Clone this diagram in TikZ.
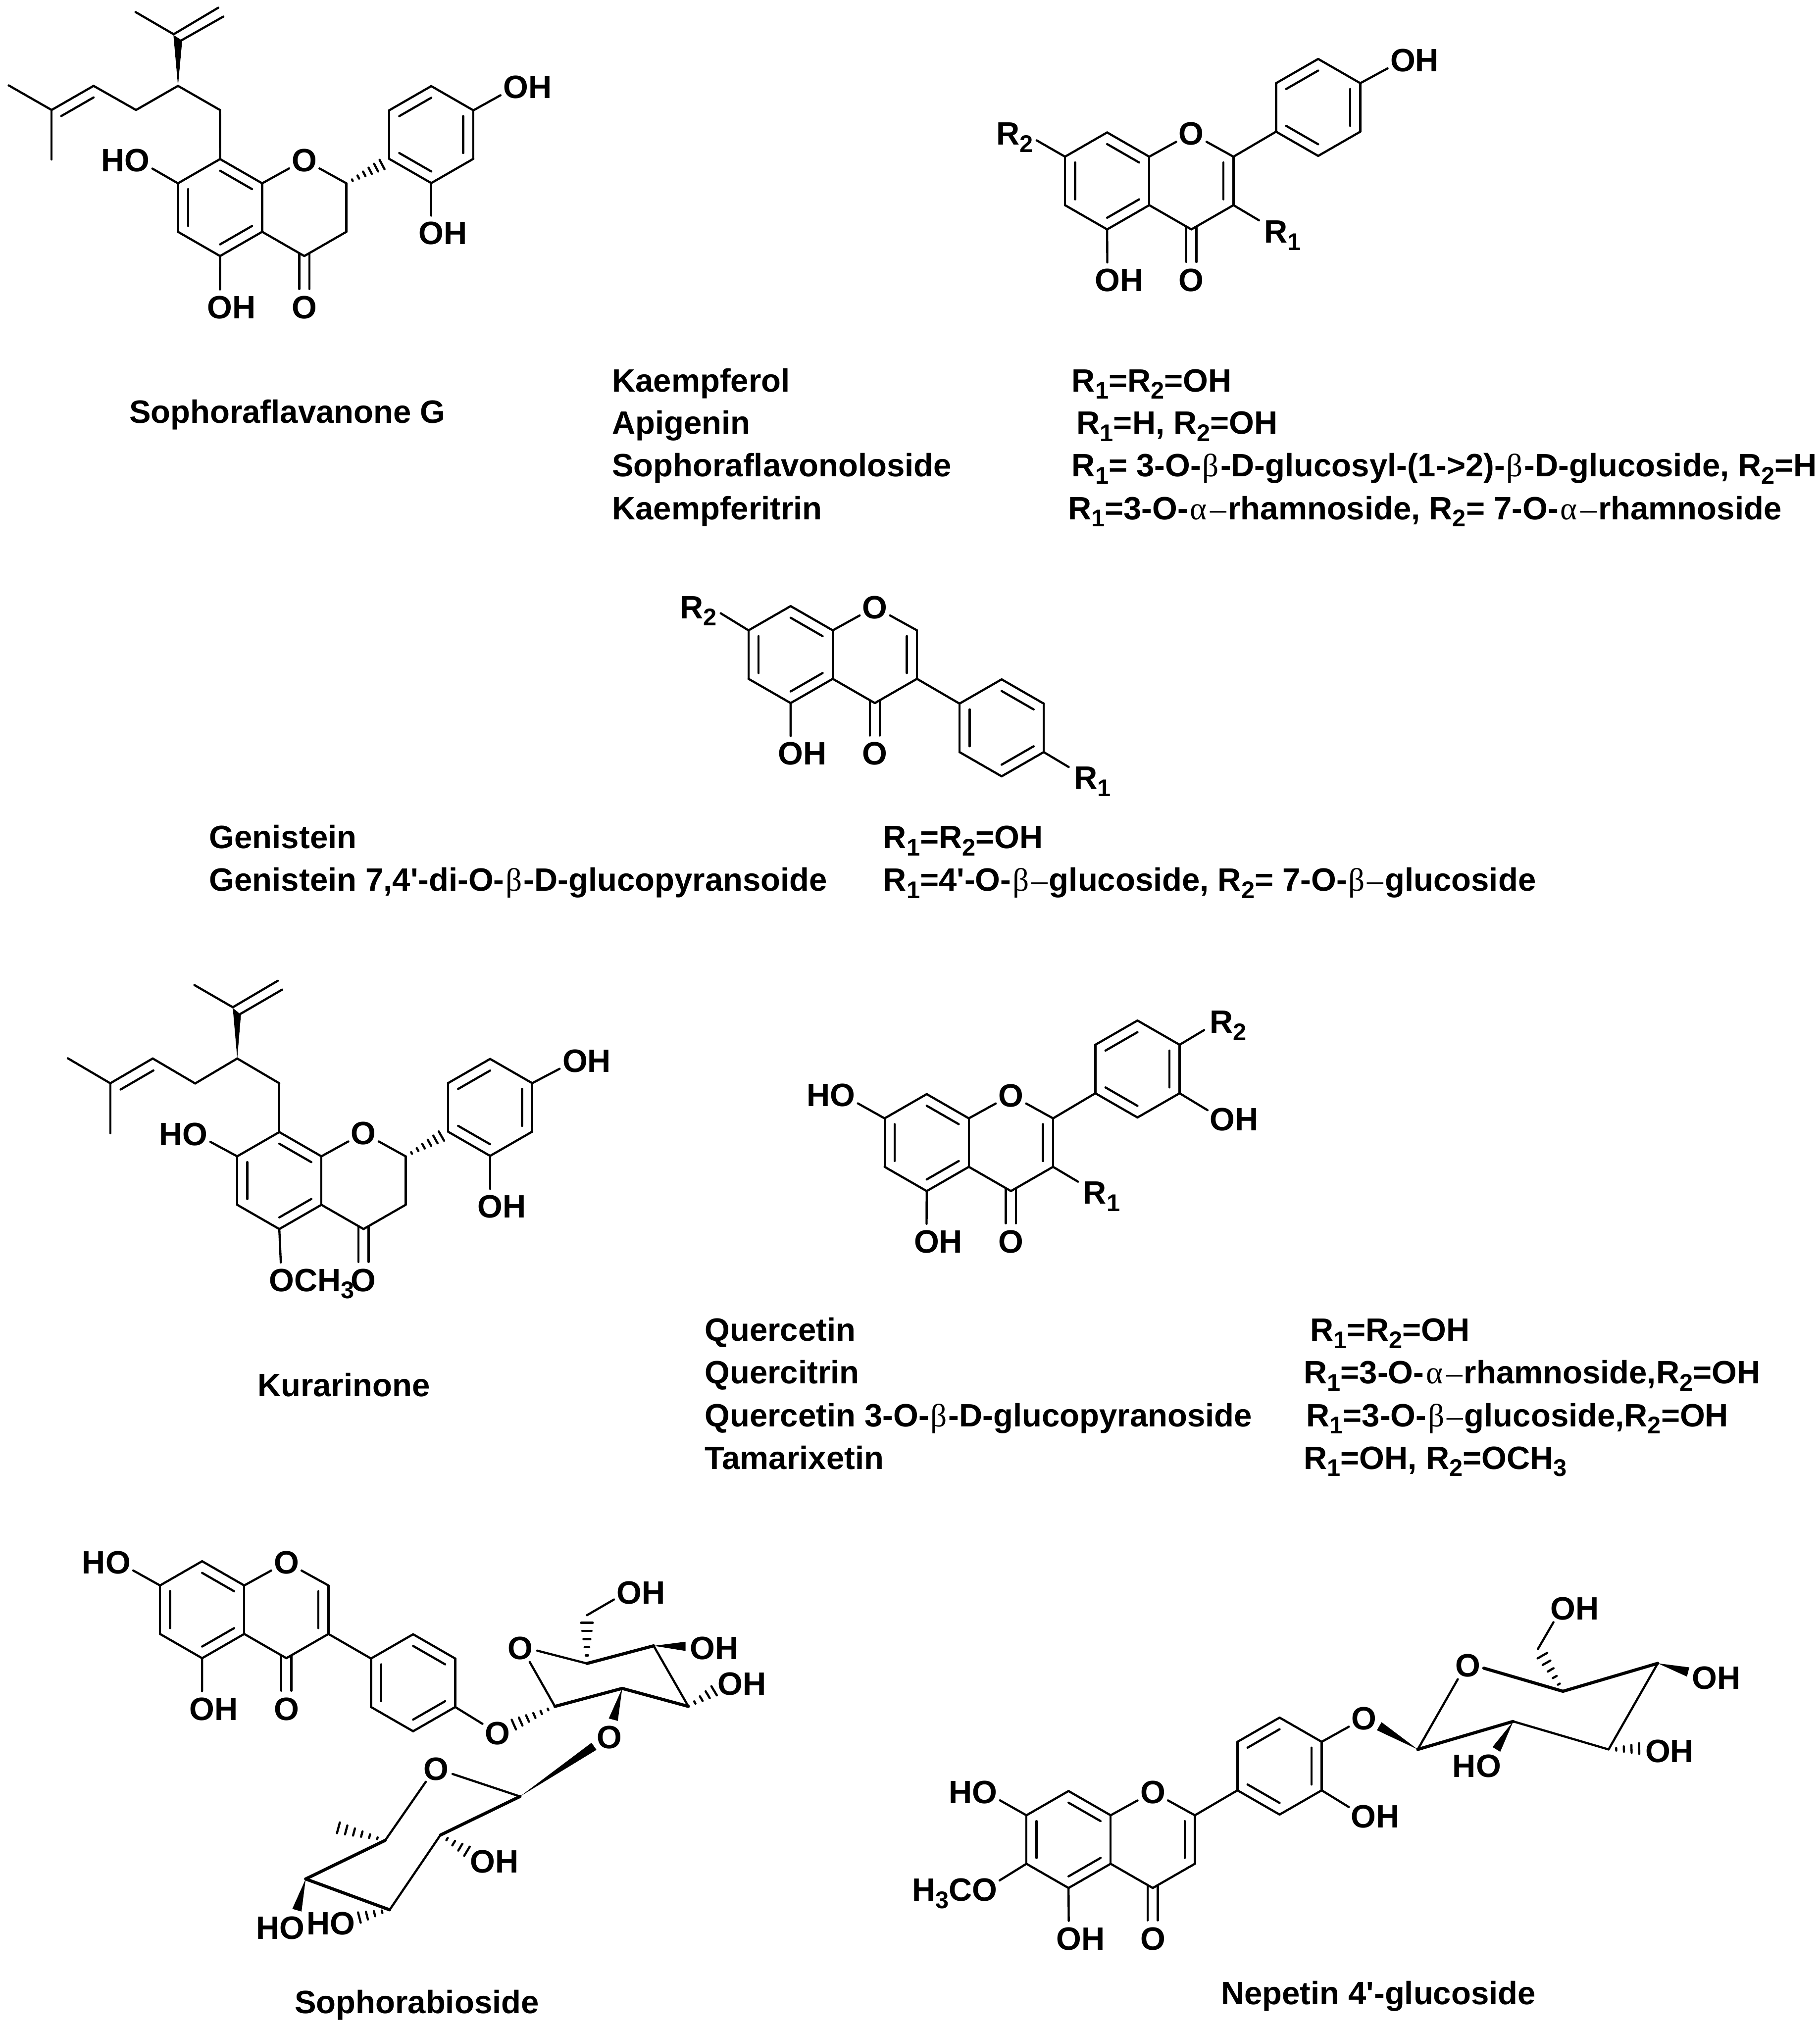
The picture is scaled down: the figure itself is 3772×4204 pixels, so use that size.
\documentclass[tikz,border=0pt]{standalone}
\usepackage{fontspec}
\usetikzlibrary{calc}
\newfontfamily\lsf{Liberation Sans}
\newfontfamily\grk{Liberation Serif}
\newcommand\subn[1]{\raisebox{-15pt}{\fontsize{50}{50}\selectfont #1}}
\newcommand\gb{{\grk\mdseries\kern3pt β\kern3pt}}
\newcommand\ga{{\grk\mdseries\kern4pt α\kern5pt}}
\newcommand\gd{{\grk\mdseries\kern2pt –\kern3pt}}
\tikzset{
  lab/.style={font=\fontsize{67}{80}\selectfont\lsf\bfseries,inner sep=0pt,outer sep=0pt,anchor=base west,text=black},
  labr/.style={lab,anchor=base east},
  bond/.style={line width=4.5pt,line cap=round,line join=round,black},
  boldb/.style={bond,line width=6.5pt},
  tolab/.style={bond,shorten >=36pt},
  hashl/.style={line width=4.5pt,line cap=round,black}
}
\newcommand\pts[1]{\foreach \nn/\xx/\yy in {#1}{\coordinate (\nn) at (\xx,\yy);}}
\newcommand\bonds[1]{\foreach \pa/\pb in {#1}{\draw[bond] (\pa) -- (\pb);}}
\newcommand\bbonds[1]{\foreach \pa/\pb in {#1}{\draw[boldb] (\pa) -- (\pb);}}
\newcommand\lbonds[1]{\foreach \pa/\pb in {#1}{\draw[tolab] (\pa) -- (\pb);}}
\newcommand\dbl[1]{\foreach \pa/\pb/\pc in {#1}{\draw[bond] ($(\pa)!.24!(\pc)$) -- ($(\pb)!.24!(\pc)$);}}
\newcommand\atom[4]{\coordinate (#1) at (#2,#3); \node[lab] (#1t) at (#2-26,#3+24) {#4};}
\newcommand\ratom[4]{\coordinate (#1) at (#2,#3); \node[labr] (#1t) at (#2+26,#3+24) {#4};}
\newcommand\swedge[3]{\fill[black] (#1) -- (#2) -- (#3) -- cycle;}
\newcommand\hashb[4]{\foreach \ii in {1,...,#4}{%
  \pgfmathsetmacro\tv{\ii/#4}\pgfmathsetmacro\wv{#3*\tv}%
  \draw[hashl] ($(#1)!\tv!(#2)!\wv pt!90:(#1)$) -- ($(#1)!\tv!(#2)!\wv pt!-90:(#1)$);}}
% fused bicyclic skeleton: prefix, x and y of ring-junction top, y of the exocyclic O
\newcommand\skel[4]{%
  \coordinate (#1c1) at (#2,#3);
  \coordinate (#1c2) at (#2,#3+100.5);
  \coordinate (#1c3) at (#2-87.3,#3+150.75);
  \coordinate (#1c4) at (#2-174.6,#3+100.5);
  \coordinate (#1c5) at (#2-174.6,#3);
  \coordinate (#1c6) at (#2-87.3,#3-50.25);
  \coordinate (#1c8) at (#2+174.6,#3);
  \coordinate (#1c9) at (#2+174.6,#3+100.5);
  \coordinate (#1c10) at (#2+87.3,#3+150.75);
  \coordinate (#1A) at (#2-87.3,#3+50.25);
  \coordinate (#1B) at (#2+87.3,#3+50.25);
  \atom{#1O}{#2+87.3}{#3-48.25}{O}
  \atom{#1X}{#2+87.3}{#4}{O}
  \bonds{#1c1/#1c2,#1c2/#1c3,#1c3/#1c4,#1c4/#1c5,#1c5/#1c6,#1c6/#1c1,#1c8/#1c9,#1c9/#1c10,#1c10/#1c2}
  \lbonds{#1c1/#1O,#1c8/#1O}
  \dbl{#1c6/#1c1/#1A,#1c5/#1c4/#1A,#1c3/#1c2/#1A}
  \draw[bond] ($(#1c10)+(-10.5,-5)$) -- ($(#1X)+(-10.5,-37)$);
  \draw[bond] ($(#1c10)+(10.5,-5)$) -- ($(#1X)+(10.5,-37)$);
}
\newcommand\arylring[3]{%
  \coordinate (#1r1) at (#2,#3-100.5);
  \coordinate (#1r2) at (#2+87.3,#3-50.25);
  \coordinate (#1r3) at (#2+87.3,#3+50.25);
  \coordinate (#1r4) at (#2,#3+100.5);
  \coordinate (#1r5) at (#2-87.3,#3+50.25);
  \coordinate (#1r6) at (#2-87.3,#3-50.25);
  \coordinate (#1rc) at (#2,#3);
  \bonds{#1r1/#1r2,#1r2/#1r3,#1r3/#1r4,#1r4/#1r5,#1r5/#1r6,#1r6/#1r1}
}
\begin{document}
\begin{tikzpicture}[x=1pt,y=-1pt]
\useasboundingbox (0,0) rectangle (3772,4204);
%% ---------- Sophoraflavanone G
\skel{a}{543.5}{380}{636}
\arylring{a}{894}{279}
\dbl{ar5/ar4/arc,ar3/ar2/arc,ar1/ar6/arc}
\ratom{aHO}{284.6}{331.5}{HO}
\atom{aOH}{456}{636}{OH}
\atom{aOHa}{1069}{180}{OH}
\atom{aOHb}{894}{483}{OH}
\lbonds{ac5/aHO,ac3/aOH,ar2/aOHa,ar4/aOHb}
\pts{ah/792/341,as1/456/228,as2/369/178,as3/282/228,as4/194/178,as5/107/228,as6/18/177,as7/107/330.6,
     as8/127/240.6,as9/194/202,as10/360/71,as11/281/25,as12/452.5/16,as13/375.5/84,as14/463/34.4}
\hashb{ac8}{ah}{11}{6}
\bonds{ac6/as1,as1/as2,as2/as3,as3/as4,as4/as5,as5/as6,as5/as7,as8/as9,as10/as11,as10/as12,as13/as14}
\swedge{as2}{359.5,72.5}{377.7,84}
%% ---------- Kaempferol core
\skel{b}{2382.4}{324.8}{580}
\dbl{bc8/bc9/bB}
\arylring{b}{2732.6}{222.7}
\bonds{bc8/br5}
\dbl{br5/br4/brc,br3/br2/brc,br1/br6/brc}
\atom{bOHa}{2908}{124.6}{OH}
\atom{bOHb}{2295.7}{580}{OH}
\lbonds{br2/bOHa,bc3/bOHb}
\atom{bRa}{2646.6}{479.4}{R\subn{1}}
\atom{bRb}{2091.7}{276.6}{R\subn{2}}
\pts{bea/2610/456.8,beb/2149/291}
\bonds{bc9/bea,bc5/beb}
%% ---------- Genistein core
\skel{c}{1726.3}{1306.7}{1561.7}
\dbl{cc8/cc9/cB}
\arylring{c}{2076.4}{1508.8}
\bonds{cc9/cr6}
\dbl{cr1/cr2/crc,cr3/cr4/crc,cr5/cr6/crc}
\atom{cOH}{1638.9}{1561.7}{OH}
\lbonds{cc3/cOH}
\atom{cRa}{2252.5}{1611.7}{R\subn{1}}
\atom{cRb}{1435.5}{1258.3}{R\subn{2}}
\pts{cea/2215.4/1590,ceb/1494/1271.3}
\bonds{cr3/cea,cc5/ceb}
%% ---------- Kurarinone
\skel{d}{666.3}{2397}{2652.9}
\arylring{d}{1016}{2295.6}
\dbl{dr5/dr4/drc,dr3/dr2/drc,dr1/dr6/drc}
\ratom{dHO}{404.6}{2350}{HO}
\atom{dOMe}{583.7}{2652.9}{OCH\subn{3}}
\atom{dOHa}{1192}{2198.8}{OH}
\atom{dOHb}{1016}{2500.5}{OH}
\lbonds{dc5/dHO,dc3/dOMe,dr2/dOHa,dr4/dOHb}
\pts{dh/915/2355,ds1/579/2245.6,ds2/491.8/2194.2,ds3/404.6/2246,ds4/316.6/2194.2,ds5/228.6/2245.6,ds6/140.6/2193.8,ds7/228.6/2349,
     ds8/250/2258.5,ds9/318/2219,ds10/482.6/2088,ds11/403/2042,ds12/576/2033,ds13/498/2102,ds14/585/2051.4}
\hashb{dc8}{dh}{11}{6}
\bonds{dc6/ds1,ds1/ds2,ds2/ds3,ds3/ds4,ds4/ds5,ds5/ds6,ds5/ds7,ds8/ds9,ds10/ds11,ds10/ds12,ds13/ds14}
\swedge{ds2}{482.6,2089.5}{499.5,2103.3}
%% ---------- Quercetin core
\skel{e}{2008.4}{2318.3}{2572.8}
\dbl{ec8/ec9/eB}
\arylring{e}{2358}{2216}
\bonds{ec8/er5}
\dbl{er5/er4/erc,er3/er2/erc,er1/er6/erc}
\ratom{eHO}{1747}{2269.7}{HO}
\atom{eOHa}{1920.7}{2572.8}{OH}
\atom{eOHb}{2534}{2320}{OH}
\lbonds{ec5/eHO,ec3/eOHa,er3/eOHb}
\atom{eRa}{2271.6}{2472}{R\subn{1}}
\atom{eRb}{2534}{2117.4}{R\subn{2}}
\pts{eea/2234.7/2449.6,eeb/2496/2135.4}
\bonds{ec9/eea,er2/eeb}
%% ---------- Sophorabioside
\skel{f}{506.3}{3286.6}{3541.7}
\dbl{fc8/fc9/fB}
\arylring{f}{856.4}{3488.3}
\bonds{fc9/fr6}
\dbl{fr1/fr2/frc,fr3/fr4/frc,fr5/fr6/frc}
\ratom{fHO}{244.8}{3238}{HO}
\atom{fOH}{418.9}{3541.7}{OH}
\atom{fOl}{1030.8}{3592.3}{O}
\lbonds{fc5/fHO,fc3/fOH,fr3/fOl}
% upper sugar
\atom{sO}{1079}{3416}{O}
\atom{sOg}{1263}{3601}{O}
\atom{sOHa}{1456.7}{3416}{OH}
\atom{sOHb}{1514}{3489.3}{OH}
\atom{sOHc}{1304.5}{3300.7}{OH}
\pts{s1/1150.3/3537.3,s2/1289.8/3500,s3/1427/3537.3,s4/1355/3411.7,s5/1216.7/3448.3,
     sa/1098/3445,sb/1113.5/3421.7,sc/1480.4/3505,sd/1216.7/3364,se/1216.7/3348.3,sf/1272.8/3315.7,sg/1065.2/3575}
\bonds{s1/sa,s3/s4,se/sf}
\bbonds{s1/s2,s2/s3,s4/s5}
\draw[bond] (s5) -- (sb);
\swedge{s4}{1421,3403.3}{1421,3422.3}
\swedge{s2}{1262,3562.3}{1280.7,3567.3}
\hashb{s3}{sc}{11}{4}
\hashb{s5}{sd}{12}{5}
\hashb{s1}{sg}{11}{6}
% lower sugar
\atom{tO}{904}{3666}{O}
\atom{tOHa}{1001}{3858}{OH}
\ratom{tHOa}{710.7}{3986.4}{HO}
\ratom{tHOb}{606}{3995.7}{HO}
\pts{t1/1078/3724,t2/913/3804,t3/807.7/3959,t4/633.7/3895,t5/798.5/3815,ta/882.7/3693.6,tb/701.5/3789,tc/968/3837.5,td/745/3975}
\draw[bond] (t5) -- (ta);
\draw[tolab] (t1) -- (tO);
\bonds{t2/t3}
\bbonds{t1/t2,t3/t4,t4/t5}
\swedge{t1}{1226.2,3612.7}{1236.5,3627.3}
\swedge{t4}{606,3957}{625,3962.5}
\hashb{t5}{tb}{11.5}{6}
\hashb{t2}{tc}{11}{4}
\hashb{t3}{td}{11}{4}
%% ---------- Nepetin 4'-glucoside
\skel{g}{2302.4}{3763}{4017.8}
\dbl{gc8/gc9/gB}
\arylring{g}{2652.6}{3661}
\bonds{gc8/gr5}
\dbl{gr5/gr4/grc,gr3/gr2/grc,gr1/gr6/grc}
\ratom{gHO}{2041.6}{3714.3}{HO}
\ratom{gMeO}{2041.6}{3917}{H\subn{3}CO}
\atom{gOH}{2215.7}{4017.8}{OH}
\atom{gOHb}{2826.7}{3764.8}{OH}
\atom{gOl}{2827.6}{3561.8}{O}
\lbonds{gc5/gHO,gc4/gMeO,gc3/gOH,gr3/gOHb,gr2/gOl}
\atom{uO}{3042.5}{3451.7}{O}
\atom{uOHa}{3534}{3477.9}{OH}
\ratom{uHO}{3085.8}{3659.6}{HO}
\atom{uOHb}{3436.6}{3629}{OH}
\atom{uOHc}{3240}{3333.6}{OH}
\pts{u1/2939/3626.5,u2/3136.9/3568.4,u3/3334.6/3626.5,u4/3436.6/3448,u5/3240/3506,
     ua/3022/3481,ub/3076/3458,uc/3398/3624.8,ud/3197.5/3432,ue/3188/3418.5,uf/3220.4/3362.8}
\bonds{u1/ua,u3/u4,ue/uf,u2/u3}
\bbonds{u1/u2,u5/u4,ub/u5}
\swedge{u1}{2864,3570}{2854.3,3586.7}
\swedge{u4}{3502,3456.3}{3497,3475.5}
\swedge{u2}{3094,3621.5}{3110,3631.4}
\hashb{u3}{uc}{11}{4}
\hashb{u5}{ud}{11.5}{5}
%% ---------- Captions
\node[lab] (n1) at (268,877) {Sophoraflavanone G};
\node[lab] (n2) at (1269,812) {Kaempferol};
\node[lab] (n3) at (1269,900) {Apigenin};
\node[lab] (n4) at (1269,988) {Sophoraflavonoloside};
\node[lab] (n5) at (1269,1077) {Kaempferitrin};
\node[lab] (v2) at (2222,812) {R\subn{1}=R\subn{2}=OH};
\node[lab] (v3) at (2232,900) {R\subn{1}=H, R\subn{2}=OH};
\node[lab] (v4) at (2222,988) {R\subn{1}= 3-O-\gb-D-glucosyl-(1->2)-\gb-D-glucoside, R\subn{2}=H};
\node[lab] (v5) at (2214,1077) {R\subn{1}=3-O-\ga\gd rhamnoside, R\subn{2}= 7-O-\ga\gd rhamnoside};
\node[lab] (n6) at (434,1759) {Genistein};
\node[lab] (n7) at (434,1847) {Genistein 7,4'-di-O-\gb-D-glucopyransoide};
\node[lab] (v6) at (1831,1759) {R\subn{1}=R\subn{2}=OH};
\node[lab] (v7) at (1831,1847) {R\subn{1}=4'-O-\gb\gd glucoside, R\subn{2}= 7-O-\gb\gd glucoside};
\node[lab] (n8) at (534,2895) {Kurarinone};
\node[lab] (n9) at (1461,2780) {Quercetin};
\node[lab] (n10) at (1461,2868.5) {Quercitrin};
\node[lab] (n11) at (1461,2957) {Quercetin 3-O-\gb-D-glucopyranoside};
\node[lab] (n12) at (1461,3045.5) {Tamarixetin};
\node[lab] (v9) at (2716,2780) {R\subn{1}=R\subn{2}=OH};
\node[lab] (v10) at (2703,2868.5) {R\subn{1}=3-O-\ga\gd rhamnoside,R\subn{2}=OH};
\node[lab] (v11) at (2708,2957) {R\subn{1}=3-O-\gb\gd glucoside,R\subn{2}=OH};
\node[lab] (v12) at (2703,3045.5) {R\subn{1}=OH, R\subn{2}=OCH\subn{3}};
\node[lab] (n13) at (611,4174) {Sophorabioside};
\node[lab] (n14) at (2531,4155) {Nepetin 4'-glucoside};
\end{tikzpicture}
\end{document}
